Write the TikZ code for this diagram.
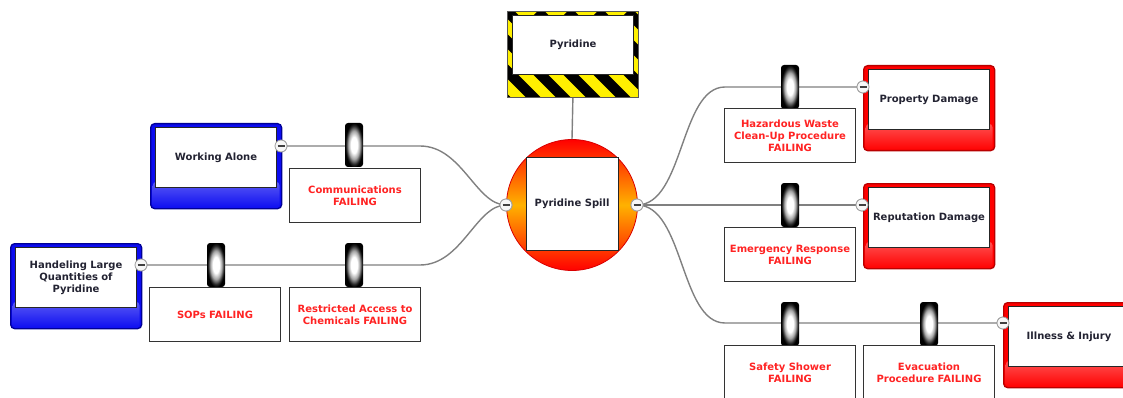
\documentclass[tikz,border=0pt]{standalone}
\usepackage{fontspec}
\setmainfont{DejaVu Sans}
\definecolor{threatblue}{RGB}{12,12,240}
\definecolor{threatedge}{RGB}{0,0,150}
\definecolor{consred}{RGB}{255,0,0}
\definecolor{consedge}{RGB}{185,0,0}
\definecolor{failred}{RGB}{255,35,35}
\definecolor{linkgray}{RGB}{128,128,128}
\definecolor{hazyellow}{RGB}{255,240,0}
\definecolor{spillorange}{RGB}{255,178,0}
\definecolor{inktext}{RGB}{35,35,50}
% glossy barrel: white core fading to black rim
\pgfdeclareradialshading{barrelglow}{\pgfpoint{0bp}{0bp}}{%
  color(0bp)=(white); color(9bp)=(white); color(16bp)=(black!35);
  color(22bp)=(black!85); color(25bp)=(black); color(50bp)=(black)}
% barrier cylinder standing on its box
\newcommand\barriercyl[2]{%
  \shade[shading=barrelglow, rounded corners=3] (#1,#2) rectangle ++(18,44);
}
\begin{document}
\begin{tikzpicture}[x=1pt,y=-1pt,
  txt/.style={font=\fontsize{10}{12}\selectfont\bfseries, align=center},
  conn/.style={draw=linkgray, line width=1.4},
  eventbox/.style 2 args={rectangle, rounded corners=4, minimum width=131,
    minimum height=85, inner sep=0, line width=1.3, draw=#2, fill=#1,
    anchor=north west,
    path picture={\shade[top color=white, bottom color=#1]
      ([xshift=2pt,yshift=-58pt]path picture bounding box.north west)
      rectangle ([xshift=-2pt]path picture bounding box.south east);}},
  innerbox/.style={rectangle, draw=black!85, line width=1, fill=white,
    minimum width=121, minimum height=60, inner sep=1.5, text width=117,
    anchor=north west, txt, text=inktext},
  barrierbox/.style={rectangle, draw=black!80, line width=1, fill=white,
    minimum width=131, minimum height=54, inner sep=1.5, text width=127,
    anchor=north west, txt, text=failred},
  marker/.style={circle, minimum size=12, inner sep=0, draw=gray!75,
    line width=0.8, fill=gray!6,
    path picture={\draw[black!75, line width=1.3]
      ([xshift=-3.5pt]path picture bounding box.center) --
      ([xshift=3.5pt]path picture bounding box.center);}}
]
\useasboundingbox (0,0) rectangle (1123,398);
\clip (0,0) rectangle (1123,398);

% ---------- hazard ----------
\node[rectangle, minimum width=131, minimum height=86, inner sep=0,
  draw=black!65, line width=0.8, anchor=north west,
  path picture={\fill[hazyellow] (path picture bounding box.south west)
      rectangle (path picture bounding box.north east);
    \foreach \k in {-4,...,5}
      \draw[black, line width=10.5]
        ([xshift=\k*30pt]path picture bounding box.north west) -- ++(100,100);}]
  (hazardframe) at (507,11) {};
\node[innerbox, minimum height=59, text=inktext] (hazard) at (512,15) {Pyridine};

% ---------- top event ----------
\node[circle, minimum size=131, inner sep=0, draw=red!85!black, line width=0.8,
  top color=red, bottom color=red, middle color=spillorange] (event) at (572,205) {};
\draw[conn] (hazardframe.south) -- (event.north);
\node[rectangle, draw=black!85, line width=1, fill=white, minimum size=92,
  inner sep=0, txt, text=inktext] (spill) at (572,204) {Pyridine Spill};

% ---------- connector geometry ----------
\coordinate (k1) at (420,146);
\coordinate (k2) at (420,265);
\coordinate (k3) at (725,87);
\coordinate (k4) at (725,323);

\node[marker] (mt1) at (281,146) {};
\node[marker] (mt2) at (141,265) {};
\node[marker] (mel) at (506,205) {};
\node[marker] (mer) at (637,205) {};
\node[marker] (mc1) at (863,87) {};
\node[marker] (mc2) at (862,205) {};
\node[marker] (mc3) at (1003,323) {};

\draw[conn] (mt1.center) -- (k1) .. controls (462,146) and (476,205) .. (mel.center);
\draw[conn] (mt2.center) -- (k2) .. controls (462,265) and (476,205) .. (mel.center);
\draw[conn] (mer.center) .. controls (684,205) and (680,87) .. (k3) -- (mc1.center);
\draw[conn] (mer.center) -- (mc2.center);
\draw[conn] (mer.center) .. controls (684,205) and (680,323) .. (k4) -- (mc3.center);

% ---------- threats ----------
\node[eventbox={threatblue}{threatedge}] (th1) at (150,123) {};
\node[innerbox] (threat1) at ([xshift=5pt,yshift=-4pt]th1.north west) {Working Alone};
\node[eventbox={threatblue}{threatedge}] (th2) at (10,243) {};
\node[innerbox] (threat2) at ([xshift=5pt,yshift=-4pt]th2.north west)
  {Handeling Large\\Quantities of\\Pyridine};

% ---------- consequences ----------
\node[eventbox={consred}{consedge}] (co1) at (863,65) {};
\node[innerbox] (cons1) at ([xshift=5pt,yshift=-4pt]co1.north west) {Property Damage};
\node[eventbox={consred}{consedge}] (co2) at (863,183) {};
\node[innerbox] (cons2) at ([xshift=5pt,yshift=-4pt]co2.north west) {Reputation Damage};
\node[eventbox={consred}{consedge}] (co3) at (1003,302) {};
\node[innerbox] (cons3) at ([xshift=5pt,yshift=-4pt]co3.north west) {Illness \& Injury};

% ---------- barriers ----------
\barriercyl{345}{123}
\node[barrierbox] (b1) at (289,168) {Communications\\FAILING};
\barriercyl{207}{243}
\node[barrierbox] (b2) at (149,287) {SOPs FAILING};
\barriercyl{345}{243}
\node[barrierbox] (b3) at (289,287) {Restricted Access to\\Chemicals FAILING};
\barriercyl{781}{65}
\node[barrierbox] (b4) at (724,108) {Hazardous Waste\\Clean-Up Procedure\\FAILING};
\barriercyl{781}{183}
\node[barrierbox] (b5) at (724,227) {Emergency Response\\FAILING};
\barriercyl{781}{302}
\node[barrierbox] (b6) at (724,345) {Safety Shower\\FAILING};
\barriercyl{920}{302}
\node[barrierbox] (b7) at (863,345) {Evacuation\\Procedure FAILING};

% markers on top
\foreach \m in {mt1,mt2,mel,mer,mc1,mc2,mc3}
  \node[marker] at (\m) {};
\end{tikzpicture}
\end{document}
